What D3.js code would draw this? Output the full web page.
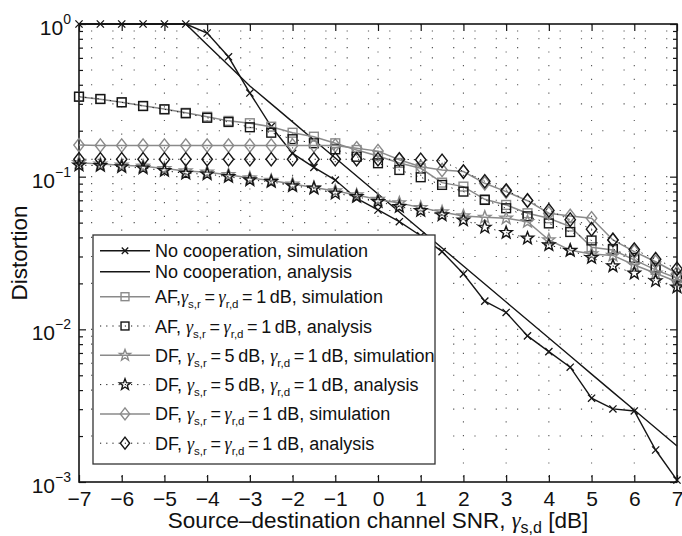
<!DOCTYPE html>
<html><head><meta charset="utf-8">
<script src="https://cdn.jsdelivr.net/npm/d3@7"></script>
<style>
body{margin:0;background:#fff}
svg{display:block}
text{font-family:"Liberation Sans",Arial,Helvetica,sans-serif;fill:#111}
</style>
</head><body>
<svg id="c" width="682" height="536"></svg>
<script>
// ---------- data ----------
const snr = [-7,-6.5,-6,-5.5,-5,-4.5,-4,-3.5,-3,-2.5,-2,-1.5,-1,-0.5,0,0.5,1,1.5,2,2.5,3,3.5,4,4.5,5,5.5,6,6.5,7];
const xTicks = [-7,-6,-5,-4,-3,-2,-1,0,1,2,3,4,5,6,7];
const yMajor = [1e-3,1e-2,1e-1,1];
const yTickLabels = ["\u22123","\u22122","\u22121","0"];

const noCoopSim = [1,1,1,1,1,1,0.873,0.61,0.353,0.213,0.142,0.115,0.095,0.072,0.0605,0.0507,0.041,0.0323,0.0231,0.0153,0.0129,0.00906,0.00714,0.00565,0.00354,0.00301,0.00292,0.00162,0.00103];
const noCoopAna = [1,1,1,1,1,1,0.73,0.536,0.393,0.2997,0.2285,0.1739,0.1326,0.1011,0.077,0.0587,0.0447,0.0341,0.026,0.0198,0.0151,0.0115,0.00877,0.00668,0.00509,0.00388,0.00296,0.00226,0.00172];
const afSim = [0.334,0.322,0.307,0.291,0.277,0.262,0.247,0.232,0.224,0.2126,0.194,0.1828,0.1655,0.1496,0.1367,0.123,0.1135,0.0914,0.0861,0.0711,0.0653,0.0576,0.0534,0.0471,0.0345,0.0331,0.0285,0.0245,0.0216];
const afAna = [0.334,0.323,0.307,0.290,0.276,0.260,0.243,0.228,0.2106,0.194,0.176,0.1655,0.151,0.135,0.1224,0.1106,0.0991,0.0883,0.0798,0.0704,0.0621,0.055,0.0494,0.0434,0.0382,0.0336,0.0294,0.0254,0.0221];
const df5Sim = [0.1235,0.121,0.119,0.117,0.113,0.109,0.107,0.103,0.098,0.0944,0.0895,0.0848,0.0806,0.0759,0.0709,0.0673,0.0627,0.0587,0.0553,0.0542,0.0534,0.0507,0.0385,0.033,0.0312,0.0305,0.0264,0.0233,0.0205];
const df5Ana = [0.119,0.118,0.116,0.1139,0.1095,0.105,0.104,0.100,0.0951,0.0927,0.0869,0.0839,0.0778,0.074,0.0686,0.0636,0.0599,0.0561,0.052,0.0466,0.043,0.0395,0.0357,0.0328,0.0295,0.026,0.0233,0.0208,0.0189];
const dfSim = [0.161,0.160,0.160,0.160,0.160,0.160,0.160,0.160,0.160,0.160,0.160,0.160,0.160,0.1535,0.147,0.129,0.116,0.1106,0.108,0.0905,0.0798,0.0696,0.0576,0.0553,0.0534,0.0385,0.0323,0.0277,0.0233];
const dfAna = [0.130,0.130,0.130,0.130,0.130,0.130,0.130,0.130,0.130,0.130,0.130,0.130,0.130,0.130,0.130,0.130,0.129,0.127,0.108,0.0933,0.0812,0.0699,0.0601,0.0523,0.0453,0.0385,0.0333,0.0288,0.0249];

const legendLabels = [
  "No cooperation, simulation",
  "No cooperation, analysis",
  "AF,\u03B3_{s,r}\u2009=\u2009\u03B3_{r,d}\u2009=\u20091\u2009dB, simulation",
  "AF, \u03B3_{s,r}\u2009=\u2009\u03B3_{r,d}\u2009=\u20091\u2009dB, analysis",
  "DF, \u03B3_{s,r}\u2009=\u20095\u2009dB, \u03B3_{r,d}\u2009=\u20091\u2009dB, simulation",
  "DF, \u03B3_{s,r}\u2009=\u20095\u2009dB, \u03B3_{r,d}\u2009=\u20091\u2009dB, analysis",
  "DF, \u03B3_{s,r}\u2009=\u2009\u03B3_{r,d}\u2009=\u20091 dB, simulation",
  "DF, \u03B3_{s,r}\u2009=\u2009\u03B3_{r,d}\u2009=\u20091 dB, analysis"
];
const xTitle = "Source\u2013destination channel SNR, \u03B3_{s,d} [dB]";
const yTitle = "Distortion";

// ---------- styles ----------
const GREY = "#8a8a8a", BLACK = "#151515";
const series = [
  {data: noCoopSim, stroke: BLACK, w: 1.4, dash: null, marker: "x", mc: BLACK},
  {data: noCoopAna, stroke: BLACK, w: 1.4, dash: null, marker: null, mc: BLACK},
  {data: afSim, stroke: GREY, w: 1.5, dash: null, marker: "square", mc: GREY},
  {data: afAna, stroke: BLACK, w: 1, dash: "1.2,5", marker: "square", mc: BLACK},
  {data: df5Sim, stroke: GREY, w: 1.5, dash: null, marker: "star", mc: GREY},
  {data: df5Ana, stroke: BLACK, w: 1, dash: "1.2,5", marker: "star", mc: BLACK},
  {data: dfSim, stroke: GREY, w: 1.5, dash: null, marker: "diamond", mc: GREY},
  {data: dfAna, stroke: BLACK, w: 1, dash: "1.2,5", marker: "diamond", mc: BLACK}
];

// ---------- layout ----------
const L = 79, R = 677, T = 24, B = 482;
const svg = d3.select("#c");
const x = d3.scaleLinear().domain([-7, 7]).range([L, R]);
const y = d3.scaleLog().domain([1e-3, 1]).range([B, T]);

const allLog = [];
[-3,-2,-1].forEach(k => { for (let m = 1; m <= 9; m++) allLog.push(m * Math.pow(10, k)); });
allLog.push(1);
const yMinor = allLog.filter(v => !yMajor.some(M => Math.abs(M - v) / M < 1e-9));

// grid
const grid = svg.append("g");
allLog.filter(v => v > 1.0001e-3 && v < 0.9999).forEach(v => {
  grid.append("line").attr("x1", L).attr("x2", R).attr("y1", y(v)).attr("y2", y(v))
    .attr("stroke", "#555").attr("stroke-width", 1.1).attr("stroke-dasharray", "1.2,20.1")
    .attr("stroke-dashoffset", -12);
});
xTicks.filter(v => v > -7 && v < 7).forEach(v => {
  grid.append("line").attr("x1", x(v)).attr("x2", x(v)).attr("y1", T).attr("y2", B)
    .attr("stroke", "#555").attr("stroke-width", 1.1).attr("stroke-dasharray", "1.2,12.5");
});

// axes ticks
const fmt = d => d < 0 ? "\u2212" + (-d) : String(d);
function styleAxis(g) {
  g.select(".domain").remove();
  g.selectAll(".tick line").attr("stroke", BLACK).attr("stroke-width", 1.2);
}
svg.append("g").attr("transform", `translate(0,${B})`)
  .call(d3.axisBottom(x).tickValues(xTicks).tickSize(-7).tickPadding(9).tickFormat(fmt))
  .call(styleAxis)
  .call(g => g.selectAll("text").attr("font-size", 21).attr("font-family", "Liberation Sans, Arial, sans-serif").attr("fill", "#111"));
svg.append("g").attr("transform", `translate(0,${T})`)
  .call(d3.axisTop(x).tickValues(xTicks).tickSize(-7).tickFormat(""))
  .call(styleAxis);
svg.append("g").attr("transform", `translate(${L},0)`)
  .call(d3.axisLeft(y).tickValues(yMajor).tickSize(-7).tickFormat(""))
  .call(styleAxis);
svg.append("g").attr("transform", `translate(${L},0)`)
  .call(d3.axisLeft(y).tickValues(yMinor).tickSize(-4).tickFormat(""))
  .call(styleAxis);
svg.append("g").attr("transform", `translate(${R},0)`)
  .call(d3.axisRight(y).tickValues(yMajor).tickSize(-7).tickFormat(""))
  .call(styleAxis);
svg.append("g").attr("transform", `translate(${R},0)`)
  .call(d3.axisRight(y).tickValues(yMinor).tickSize(-4).tickFormat(""))
  .call(styleAxis);

// frame
svg.append("rect").attr("x", L).attr("y", T).attr("width", R - L).attr("height", B - T)
  .attr("fill", "none").attr("stroke", BLACK).attr("stroke-width", 1.6);

// y tick labels
yMajor.forEach((v, i) => {
  const t = svg.append("text").attr("x", 71).attr("y", y(v) + 11).attr("text-anchor", "end").attr("font-size", 21);
  t.append("tspan").text("10");
  t.append("tspan").attr("font-size", 14).attr("dy", -11).text(yTickLabels[i]);
});

// markers
function drawMarker(g, type, cx, cy, color, scale) {
  const s = scale || 1;
  if (type === "x") {
    const r = 3.6 * s;
    g.append("path").attr("d", `M${cx-r},${cy-r}L${cx+r},${cy+r}M${cx-r},${cy+r}L${cx+r},${cy-r}`)
      .attr("stroke", color).attr("stroke-width", 1.3).attr("fill", "none");
  } else if (type === "square") {
    const h = 4.4 * s;
    g.append("rect").attr("x", cx - h).attr("y", cy - h).attr("width", 2 * h).attr("height", 2 * h)
      .attr("stroke", color).attr("stroke-width", 1.4).attr("fill", "none");
  } else if (type === "diamond") {
    const hw = 5.2 * s, hh = 6.7 * s;
    g.append("path").attr("d", `M${cx},${cy-hh}L${cx+hw},${cy}L${cx},${cy+hh}L${cx-hw},${cy}Z`)
      .attr("stroke", color).attr("stroke-width", 1.4).attr("fill", "none");
  } else if (type === "star") {
    const ro = 6.5 * s, ri = 2.7 * s;
    let d = "";
    for (let k = 0; k < 10; k++) {
      const a = -Math.PI / 2 + k * Math.PI / 5;
      const r = k % 2 === 0 ? ro : ri;
      d += (k === 0 ? "M" : "L") + (cx + r * Math.cos(a)).toFixed(2) + "," + (cy + r * Math.sin(a)).toFixed(2);
    }
    g.append("path").attr("d", d + "Z").attr("stroke", color).attr("stroke-width", 1.4).attr("fill", "none");
  }
}

// series
const line = d3.line().x((d, i) => x(snr[i])).y(d => y(d));
series.forEach(s => {
  const g = svg.append("g");
  g.append("path").datum(s.data).attr("d", line).attr("fill", "none")
    .attr("stroke", s.stroke).attr("stroke-width", s.w)
    .attr("stroke-dasharray", s.dash);
  if (s.marker) s.data.forEach((v, i) => drawMarker(g, s.marker, x(snr[i]), y(v), s.mc, 1));
});

// rich text helper
function rich(t, str, subSize, subDy) {
  const parts = str.split(/(\u03B3|_\{[^}]*\})/).filter(p => p.length);
  let off = 0;
  parts.forEach(p => {
    const ts = t.append("tspan");
    if (p.startsWith("_{")) {
      ts.attr("font-size", subSize).attr("dy", subDy - off).text(p.slice(2, -1));
      off = subDy;
    } else {
      if (off) { ts.attr("dy", -off); off = 0; }
      if (p === "\u03B3") ts.attr("font-family", "Liberation Serif, DejaVu Serif, serif").attr("font-style", "italic").text(p);
      else ts.text(p);
    }
  });
}

// legend
const LX = 93, LY = 235, LW = 342, LH = 229;
const lg = svg.append("g");
lg.append("rect").attr("x", LX).attr("y", LY).attr("width", LW).attr("height", LH)
  .attr("fill", "#fff").attr("stroke", "#333").attr("stroke-width", 1.3);
const hasSub = legendLabels.map(s => s.includes("_{"));
let cy = 250.7;
legendLabels.forEach((lab, i) => {
  if (i > 0) cy += (hasSub[i] && hasSub[i - 1]) ? 29.3 : (hasSub[i] || hasSub[i - 1]) ? 25 : 21;
  const s = series[i];
  lg.append("line").attr("x1", 100).attr("x2", 150).attr("y1", cy).attr("y2", cy)
    .attr("stroke", s.stroke).attr("stroke-width", s.w).attr("stroke-dasharray", s.dash);
  if (s.marker) drawMarker(lg, s.marker, 125, cy, s.mc, 0.9);
  const t = lg.append("text").attr("x", 155).attr("y", cy + 6.5).attr("font-size", 18);
  rich(t, lab, 11.5, 5);
});

// axis titles
const xt = svg.append("text").attr("x", (L + R) / 2).attr("y", 528).attr("text-anchor", "middle").attr("font-size", 22.5);
rich(xt, xTitle, 16, 5);
svg.append("text").attr("transform", `translate(27,${(T + B) / 2}) rotate(-90)`)
  .attr("text-anchor", "middle").attr("font-size", 22.5).text(yTitle);
</script>
</body></html>
